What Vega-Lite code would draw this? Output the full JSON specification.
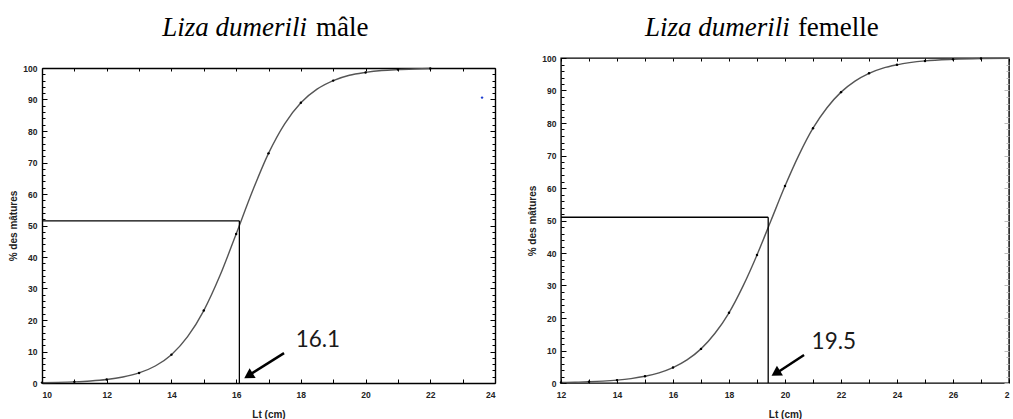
{
  "$schema": "https://vega.github.io/schema/vega-lite/v6.json",
  "padding": {"left": 8, "right": 0, "top": 13, "bottom": 0},
  "spacing": 31,
  "bounds": "full",
  "background": "white",
  "config": {
    "view": {"stroke": "#000", "strokeWidth": 1.4},
    "font": "Liberation Sans",
    "axis": {
      "domain": false,
      "grid": false,
      "tickColor": "#000",
      "tickWidth": 1,
      "labelFont": "Liberation Sans",
      "labelFontWeight": "bold",
      "labelFontSize": 8.5,
      "labelColor": "#222",
      "titleFont": "Liberation Sans",
      "titleFontWeight": "bold",
      "titleFontSize": 10,
      "titleColor": "#222"
    }
  },
  "datasets": {
    "male": [
      {"Lt": 10, "pct": 0.12}, {"Lt": 10.5, "pct": 0.21}, {"Lt": 11, "pct": 0.36}, {"Lt": 11.5, "pct": 0.63},
      {"Lt": 12, "pct": 1.1}, {"Lt": 12.5, "pct": 1.9}, {"Lt": 13, "pct": 3.2}, {"Lt": 13.5, "pct": 5.4},
      {"Lt": 14, "pct": 9.0}, {"Lt": 14.5, "pct": 14.7}, {"Lt": 15, "pct": 23.0}, {"Lt": 15.5, "pct": 34.1},
      {"Lt": 16, "pct": 47.3}, {"Lt": 16.5, "pct": 60.8}, {"Lt": 17, "pct": 72.9}, {"Lt": 17.5, "pct": 82.3},
      {"Lt": 18, "pct": 89.0}, {"Lt": 18.5, "pct": 93.3}, {"Lt": 19, "pct": 96.0}, {"Lt": 19.5, "pct": 97.7},
      {"Lt": 20, "pct": 98.6}, {"Lt": 20.5, "pct": 99.2}, {"Lt": 21, "pct": 99.5}, {"Lt": 21.5, "pct": 99.7},
      {"Lt": 22, "pct": 99.85}
    ],
    "femelle": [
      {"Lt": 12, "pct": 0.16}, {"Lt": 12.5, "pct": 0.25}, {"Lt": 13, "pct": 0.38}, {"Lt": 13.5, "pct": 0.58},
      {"Lt": 14, "pct": 0.89}, {"Lt": 14.5, "pct": 1.36}, {"Lt": 15, "pct": 2.06}, {"Lt": 15.5, "pct": 3.14},
      {"Lt": 16, "pct": 4.74}, {"Lt": 16.5, "pct": 7.1}, {"Lt": 17, "pct": 10.5}, {"Lt": 17.5, "pct": 15.3},
      {"Lt": 18, "pct": 21.6}, {"Lt": 18.5, "pct": 29.8}, {"Lt": 19, "pct": 39.4}, {"Lt": 19.5, "pct": 50.0},
      {"Lt": 20, "pct": 60.6}, {"Lt": 20.5, "pct": 70.2}, {"Lt": 21, "pct": 78.4}, {"Lt": 21.5, "pct": 84.7},
      {"Lt": 22, "pct": 89.5}, {"Lt": 22.5, "pct": 92.9}, {"Lt": 23, "pct": 95.3}, {"Lt": 23.5, "pct": 96.9},
      {"Lt": 24, "pct": 97.9}, {"Lt": 25, "pct": 99.1}, {"Lt": 26, "pct": 99.6}, {"Lt": 27, "pct": 99.84},
      {"Lt": 28, "pct": 99.93}
    ],
    "maleL50": [{"Lmin": 10, "L50": 16.1, "p0": 0, "p": 51.5}],
    "femelleL50": [{"Lmin": 12, "L50": 19.4, "p0": 0, "p": 51.0}],
    "maleNote": [{"label": "16.1", "xa": 17.48, "ya": 9.5, "xb": 16.4, "yb": 2.5, "xh": 16.38, "yh": 2.3, "xt": 17.84, "yt": 11.4}],
    "femelleNote": [{"label": "19.5", "xa": 20.68, "ya": 8.6, "xb": 19.7, "yb": 3.1, "xh": 19.67, "yh": 3.0, "xt": 20.95, "yt": 10.5}]
  },
  "hconcat": [
    {
      "width": 453,
      "height": 325,
      "view": {"stroke": null},
      "resolve": {"axis": {"x": "independent", "y": "independent"}},
      "layer": [
        {
          "data": {"name": "male"},
          "mark": {"type": "line", "interpolate": "monotone", "color": "#555", "strokeWidth": 1.4},
          "encoding": {
            "x": {"field": "Lt", "type": "quantitative", "scale": {"domain": [10, 24], "nice": false, "zero": false},
              "axis": {"orient": "bottom", "title": "Lt (cm)", "values": [10,11,12,13,14,15,16,17,18,19,20,21,22,23,24],
                "labelExpr": "datum.value % 2 === 0 ? datum.label : ''", "tickSize": -4, "labelPadding": 11, "titlePadding": 11,
                "domain": true, "domainColor": "#000", "domainWidth": 1.4}},
            "y": {"field": "pct", "type": "quantitative", "scale": {"domain": [0, 100], "nice": false, "range": [325, 10]},
              "axis": {"orient": "left", "title": "% des mâtures",
                "values": [0,2,4,6,8,10,12,14,16,18,20,22,24,26,28,30,32,34,36,38,40,42,44,46,48,50,52,54,56,58,60,62,64,66,68,70,72,74,76,78,80,82,84,86,88,90,92,94,96,98,100],
                "labelExpr": "datum.value % 10 === 0 ? datum.label : ''",
                "tickSize": {"condition": {"test": "datum.value % 10 === 0", "value": -5}, "value": -3},
                "labelPadding": 10, "titlePadding": 4,
                "domain": true, "domainColor": "#000", "domainWidth": 1.4}}
          }
        },
        {
          "data": {"name": "male"},
          "transform": [{"filter": "datum.Lt % 1 === 0"}],
          "mark": {"type": "point", "filled": true, "size": 6, "color": "#000", "opacity": 1},
          "encoding": {
            "x": {"field": "Lt", "type": "quantitative", "scale": {"domain": [10, 24], "nice": false, "zero": false},
              "axis": {"orient": "top", "title": null, "labels": false, "values": [10,11,12,13,14,15,16,17,18,19,20,21,22,23,24], "tickSize": -3,
                "offset": -10, "domain": true, "domainColor": "#000", "domainWidth": 1.4}},
            "y": {"field": "pct", "type": "quantitative", "scale": {"domain": [0, 100], "nice": false, "range": [325, 10]},
              "axis": {"orient": "right", "title": null, "labels": false,
                "values": [0,2,4,6,8,10,12,14,16,18,20,22,24,26,28,30,32,34,36,38,40,42,44,46,48,50,52,54,56,58,60,62,64,66,68,70,72,74,76,78,80,82,84,86,88,90,92,94,96,98,100],
                "tickSize": {"condition": {"test": "datum.value % 10 === 0", "value": -5}, "value": -3},
                "domain": true, "domainColor": "#000", "domainWidth": 1.4}}
          }
        },
        {
          "data": {"name": "maleL50"},
          "mark": {"type": "rule", "color": "#000", "strokeWidth": 1.3},
          "encoding": {
            "x": {"field": "Lmin", "type": "quantitative", "axis": null},
            "x2": {"field": "L50"},
            "y": {"field": "p", "type": "quantitative", "axis": null}
          }
        },
        {
          "data": {"name": "maleL50"},
          "mark": {"type": "rule", "color": "#000", "strokeWidth": 1.3},
          "encoding": {
            "x": {"field": "L50", "type": "quantitative", "axis": null},
            "y": {"field": "p0", "type": "quantitative", "axis": null},
            "y2": {"field": "p"}
          }
        },
        {
          "data": {"name": "maleNote"},
          "mark": {"type": "rule", "color": "#000", "strokeWidth": 2.5},
          "encoding": {
            "x": {"field": "xa", "type": "quantitative", "axis": null},
            "y": {"field": "ya", "type": "quantitative", "axis": null},
            "x2": {"field": "xb"},
            "y2": {"field": "yb"}
          }
        },
        {
          "data": {"name": "maleNote"},
          "mark": {"type": "point", "shape": "triangle-up", "filled": true, "size": 130, "angle": 238, "color": "#000", "opacity": 1},
          "encoding": {
            "x": {"field": "xh", "type": "quantitative", "axis": null},
            "y": {"field": "yh", "type": "quantitative", "axis": null}
          }
        },
        {
          "data": {"name": "maleNote"},
          "mark": {"type": "text", "align": "left", "baseline": "alphabetic", "font": "Lato", "fontSize": 22.5, "color": "#1a1a1a"},
          "encoding": {
            "x": {"field": "xt", "type": "quantitative", "axis": null},
            "y": {"field": "yt", "type": "quantitative", "axis": null},
            "text": {"field": "label", "type": "nominal"}
          }
        },
        {
          "data": {"values": [{"Lt": 23.6, "pct": 90.6}]},
          "mark": {"type": "point", "filled": true, "size": 6, "color": "#1f3fd0", "opacity": 1},
          "encoding": {
            "x": {"field": "Lt", "type": "quantitative", "axis": null},
            "y": {"field": "pct", "type": "quantitative", "axis": null}
          }
        },
        {
          "data": {"values": [{"species": "Liza dumerili", "sex": "mâle"}]},
          "mark": {"type": "text", "align": "right", "baseline": "alphabetic", "font": "Liberation Serif", "fontStyle": "italic", "fontSize": 27, "color": "#000", "dx": -1},
          "encoding": {
            "x": {"datum": 18.22, "type": "quantitative", "axis": null},
            "y": {"datum": 110.2, "type": "quantitative", "axis": null},
            "text": {"field": "species", "type": "nominal"}
          }
        },
        {
          "data": {"values": [{"species": "Liza dumerili", "sex": "mâle"}]},
          "mark": {"type": "text", "align": "left", "baseline": "alphabetic", "font": "Liberation Serif", "fontSize": 27, "color": "#000", "dx": 8},
          "encoding": {
            "x": {"datum": 18.22, "type": "quantitative", "axis": null},
            "y": {"datum": 110.2, "type": "quantitative", "axis": null},
            "text": {"field": "sex", "type": "nominal"}
          }
        }
      ]
    },
    {
      "width": 448,
      "height": 325,
      "resolve": {"axis": {"x": "independent", "y": "independent"}},
      "layer": [
        {
          "data": {"name": "femelle"},
          "mark": {"type": "line", "interpolate": "monotone", "color": "#555", "strokeWidth": 1.4},
          "encoding": {
            "x": {"field": "Lt", "type": "quantitative", "scale": {"domain": [12, 28], "nice": false, "zero": false},
              "axis": {"orient": "bottom", "title": "Lt (cm)", "values": [12,13,14,15,16,17,18,19,20,21,22,23,24,25,26,27,28],
                "labelExpr": "datum.value === 28 ? '2' : (datum.value % 2 === 0 ? datum.label : '')",
                "labelAlign": {"condition": {"test": "datum.value === 28", "value": "right"}, "value": "center"},
                "tickSize": -4, "labelPadding": 11, "titlePadding": 11}},
            "y": {"field": "pct", "type": "quantitative", "scale": {"domain": [0, 100], "nice": false},
              "axis": {"orient": "left", "title": "% des mâtures",
                "values": [0,2,4,6,8,10,12,14,16,18,20,22,24,26,28,30,32,34,36,38,40,42,44,46,48,50,52,54,56,58,60,62,64,66,68,70,72,74,76,78,80,82,84,86,88,90,92,94,96,98,100],
                "labelExpr": "datum.value % 10 === 0 ? datum.label : ''",
                "tickSize": {"condition": {"test": "datum.value % 10 === 0", "value": -5}, "value": -3},
                "labelPadding": 10, "titlePadding": 4}}
          }
        },
        {
          "data": {"name": "femelle"},
          "transform": [{"filter": "datum.Lt % 1 === 0 && datum.Lt <= 27"}],
          "mark": {"type": "point", "filled": true, "size": 6, "color": "#000", "opacity": 1},
          "encoding": {
            "x": {"field": "Lt", "type": "quantitative", "scale": {"domain": [12, 28], "nice": false, "zero": false},
              "axis": {"orient": "top", "title": null, "labels": false, "values": [12,13,14,15,16,17,18,19,20,21,22,23,24,25,26,27,28], "tickSize": -3}},
            "y": {"field": "pct", "type": "quantitative", "scale": {"domain": [0, 100], "nice": false},
              "axis": {"orient": "right", "title": null, "labels": false,
                "values": [0,2,4,6,8,10,12,14,16,18,20,22,24,26,28,30,32,34,36,38,40,42,44,46,48,50,52,54,56,58,60,62,64,66,68,70,72,74,76,78,80,82,84,86,88,90,92,94,96,98,100],
                "tickSize": {"condition": {"test": "datum.value % 10 === 0", "value": -5}, "value": -3}, "tickColor": "#bbb"}}
          }
        },
        {
          "data": {"name": "femelleL50"},
          "mark": {"type": "rule", "color": "#000", "strokeWidth": 1.3},
          "encoding": {
            "x": {"field": "Lmin", "type": "quantitative", "axis": null},
            "x2": {"field": "L50"},
            "y": {"field": "p", "type": "quantitative", "axis": null}
          }
        },
        {
          "data": {"name": "femelleL50"},
          "mark": {"type": "rule", "color": "#000", "strokeWidth": 1.3},
          "encoding": {
            "x": {"field": "L50", "type": "quantitative", "axis": null},
            "y": {"field": "p0", "type": "quantitative", "axis": null},
            "y2": {"field": "p"}
          }
        },
        {
          "data": {"name": "femelleNote"},
          "mark": {"type": "rule", "color": "#000", "strokeWidth": 2.5},
          "encoding": {
            "x": {"field": "xa", "type": "quantitative", "axis": null},
            "y": {"field": "ya", "type": "quantitative", "axis": null},
            "x2": {"field": "xb"},
            "y2": {"field": "yb"}
          }
        },
        {
          "data": {"name": "femelleNote"},
          "mark": {"type": "point", "shape": "triangle-up", "filled": true, "size": 130, "angle": 238, "color": "#000", "opacity": 1},
          "encoding": {
            "x": {"field": "xh", "type": "quantitative", "axis": null},
            "y": {"field": "yh", "type": "quantitative", "axis": null}
          }
        },
        {
          "data": {"name": "femelleNote"},
          "mark": {"type": "text", "align": "left", "baseline": "alphabetic", "font": "Lato", "fontSize": 22.5, "color": "#1a1a1a"},
          "encoding": {
            "x": {"field": "xt", "type": "quantitative", "axis": null},
            "y": {"field": "yt", "type": "quantitative", "axis": null},
            "text": {"field": "label", "type": "nominal"}
          }
        },
        {
          "data": {"values": [{"species": "Liza dumerili", "sex": "femelle"}]},
          "mark": {"type": "text", "align": "right", "baseline": "alphabetic", "font": "Liberation Serif", "fontStyle": "italic", "fontSize": 27, "color": "#000", "dx": -1},
          "encoding": {
            "x": {"datum": 20.21, "type": "quantitative", "axis": null},
            "y": {"datum": 106.8, "type": "quantitative", "axis": null},
            "text": {"field": "species", "type": "nominal"}
          }
        },
        {
          "data": {"values": [{"species": "Liza dumerili", "sex": "femelle"}]},
          "mark": {"type": "text", "align": "left", "baseline": "alphabetic", "font": "Liberation Serif", "fontSize": 27, "color": "#000", "dx": 7},
          "encoding": {
            "x": {"datum": 20.21, "type": "quantitative", "axis": null},
            "y": {"datum": 106.8, "type": "quantitative", "axis": null},
            "text": {"field": "sex", "type": "nominal"}
          }
        }
      ]
    }
  ]
}
